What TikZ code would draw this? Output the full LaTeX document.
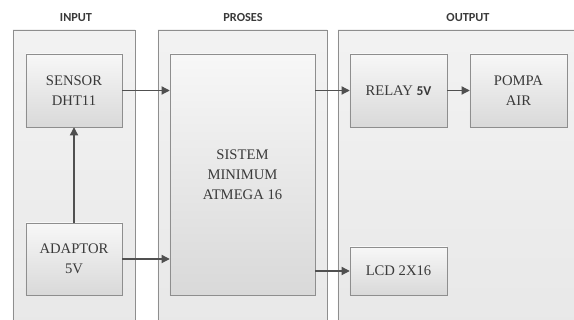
\documentclass[tikz,border=0pt]{standalone}
\usepackage{fontspec}
\setmainfont{Liberation Serif}
\newfontfamily\headfont{Carlito}
\usepackage{tikz}
\usetikzlibrary{positioning,arrows.meta}
\definecolor{edge}{HTML}{8E8E8E}
\definecolor{ink}{HTML}{3A3A3A}
\definecolor{arrowc}{HTML}{505050}

\begin{document}
\begin{tikzpicture}[x=0.03cm, y=-0.03cm,
  panel/.style={draw=edge, top color=black!5, bottom color=black!9, minimum width=#1, minimum height=9cm, inner sep=0pt},
  block/.style={draw=edge, top color=black!3, bottom color=black!15, text=ink, align=center, font=\fontsize{12.5}{17}\selectfont, inner sep=0pt},
  head/.style={font=\headfont\bfseries\fontsize{10.5}{12}\selectfont, text=ink},
  arr/.style={-{Triangle[length=7pt, width=7pt]}, draw=arrowc, line width=1pt},
]
\useasboundingbox (0,0) rectangle (574,320);
\clip (0,0) rectangle (574,320);
% panels
\node[panel=3.66cm] (input)  at (74, 180)    {};
\node[panel=5.07cm] (proses) at (242.5, 180) {};
\node[panel=7.26cm] (output) at (459, 180)   {};
\node[head] at (76, 18)  {INPUT};
\node[head] at (243, 18) {PROSES};
\node[head] at (468, 18) {OUTPUT};
% blocks
\node[block, minimum width=2.88cm, minimum height=2.19cm] (sensor)  at (74, 90.5)    {SENSOR\\DHT11};
\node[block, minimum width=2.88cm, minimum height=2.16cm] (adaptor) at (74, 259)     {ADAPTOR\\5V};
\node[block, minimum width=4.35cm, minimum height=7.23cm] (sistem)  at (242.5, 174.5) {SISTEM\\MINIMUM\\ATMEGA 16};
\node[block, minimum width=2.91cm, minimum height=2.19cm] (relay)   at (398.5, 90.5) {RELAY\ {\headfont\bfseries\fontsize{11.5}{13}\selectfont 5V}};
\node[block, minimum width=2.91cm, minimum height=2.19cm] (pompa)   at (518.5, 90.5) {POMPA\\AIR};
\node[block, minimum width=2.91cm, minimum height=1.44cm] (lcd)     at (398.5, 271)  {LCD 2X16};
% connections
\draw[arr] (adaptor) -- (sensor);
\draw[arr] (sensor) -- (sensor -| sistem.west);
\draw[arr] (adaptor) -- (adaptor -| sistem.west);
\draw[arr] (sistem.east |- relay) -- (relay);
\draw[arr] (relay) -- (pompa);
\draw[arr] (sistem.east |- lcd) -- (lcd);
\end{tikzpicture}
\end{document}
